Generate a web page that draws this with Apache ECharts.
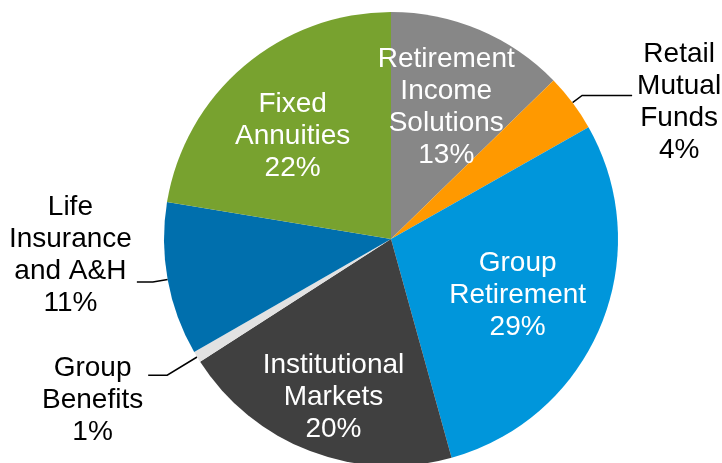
<!DOCTYPE html>
<html>
<head>
<meta charset="utf-8">
<script src="https://cdn.jsdelivr.net/npm/echarts@6/dist/echarts.min.js"></script>
<style>
  html, body { margin: 0; padding: 0; background: #fff; }
  #chart { width: 722px; height: 463px; }
</style>
</head>
<body>
<div id="chart"></div>
<script>
// segment names, in clockwise order from 12 o'clock
var segments = [
  "Retirement Income Solutions",
  "Retail Mutual Funds",
  "Group Retirement",
  "Institutional Markets",
  "Group Benefits",
  "Life Insurance and A&H",
  "Fixed Annuities"
];
// how each name is broken over lines in the labels
var nameLines = [
  ["Retirement", "Income", "Solutions"],
  ["Retail", "Mutual", "Funds"],
  ["Group", "Retirement"],
  ["Institutional", "Markets"],
  ["Group", "Benefits"],
  ["Life", "Insurance", "and A&H"],
  ["Fixed", "Annuities"]
];
// share of the total (percent)
var shares = [12.7, 4.1, 28.9, 20.2, 0.8, 10.9, 22.4];
var colors = ["#878787", "#ff9900", "#0096db", "#404040", "#e2e2e2", "#006fad", "#78a22f"];

// label styling (not data)
var outside = {
  1: { length: 12, length2: 50, padding: [14, 0, 0, 0] },
  4: { length: 35, length2: 19, padding: [51, 0, 0, 0] },
  5: { length: 15, length2: 16, padding: [0, 0, 53, 0] }
};
// nudges for the labels drawn inside the slices
var insideShift = {
  0: [10, -24],
  2: [19, 12],
  3: [-16, 49],
  6: [-23, -14]
};
var font = "'Liberation Sans', Arial, sans-serif";

var data = segments.map(function (name, i) {
  var o = outside[i];
  var item = { name: name, value: shares[i], itemStyle: { color: colors[i] } };
  if (o) {
    item.label = { position: "outside", padding: o.padding };
    item.labelLine = {
      show: true, length: o.length, length2: o.length2,
      lineStyle: { color: "#000", width: 1.5 }
    };
  } else {
    item.label = { position: "inside" };
    item.labelLine = { show: false };
  }
  return item;
});

var myChart = echarts.init(document.getElementById("chart"));
myChart.setOption({
  animation: false,
  series: [
    {
      type: "pie",
      center: [391, 239],
      radius: 227,
      startAngle: 90,
      clockwise: true,
      percentPrecision: 0,
      avoidLabelOverlap: false,
      data: data,
      label: {
        show: true,
        overflow: "none",
        fontFamily: font,
        fontSize: 28,
        lineHeight: 32,
        formatter: function (p) {
          var tag = outside[p.dataIndex] ? "k" : "w";
          return nameLines[p.dataIndex].concat([p.percent + "%"]).map(function (s) {
            return "{" + tag + "|" + s + "}";
          }).join("\n");
        },
        rich: {
          w: { color: "#fff", align: "center", fontFamily: font, fontSize: 28, lineHeight: 32 },
          k: { color: "#000", align: "center", fontFamily: font, fontSize: 28, lineHeight: 32 }
        }
      },
      labelLayout: function (p) {
        var s = insideShift[p.dataIndex];
        if (!s) return {};
        return { dx: s[0], dy: s[1] };
      }
    }
  ]
});
</script>
</body>
</html>
